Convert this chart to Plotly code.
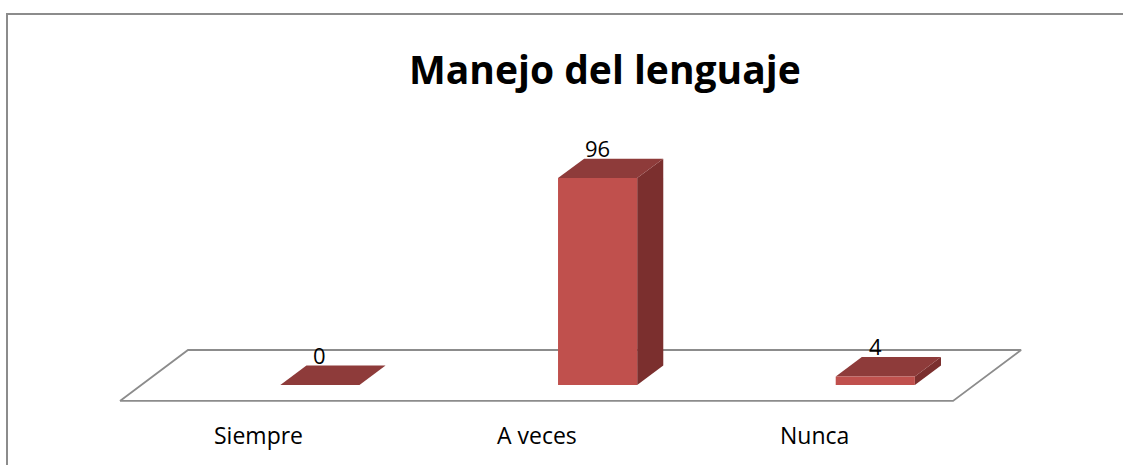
import plotly.graph_objects as go

# datos del gráfico
categorias = ["Siempre", "A veces", "Nunca"]
valores = [0, 96, 4]
titulo = "Manejo del lenguaje"

# colores estilo Office
color_frente = "#C0504D"
color_arriba = "#8E3B3A"
color_lado = "#7B2F2E"
color_piso = "#8C8C8C"

# geometría 3D simulada (unidades de los ejes)
desplaz_barra = 0.22      # barra respecto al centro de categoría
ancho_barra = 0.285
prof_dx, prof_dy = 0.094, 9.0      # profundidad de la barra
piso_dx, piso_dy = 0.245, 23.65    # profundidad del piso
piso_frente = -7.4

fig = go.Figure()

# piso
n = len(categorias)
px0, px1 = -0.5, n - 0.5
fig.add_trace(go.Scatter(
    x=[px0, px1, px1 + piso_dx, px0 + piso_dx, px0],
    y=[piso_frente, piso_frente, piso_frente + piso_dy, piso_frente + piso_dy, piso_frente],
    mode="lines", line=dict(color=color_piso, width=1.8),
    hoverinfo="skip", showlegend=False))


def cara(xs, ys, color):
    # polígono relleno para una cara de la barra
    fig.add_trace(go.Scatter(
        x=xs, y=ys, mode="lines", fill="toself", fillcolor=color,
        line=dict(width=0, color=color), hoverinfo="skip", showlegend=False))


# caras lateral, superior y frontal de cada barra
for i, v in enumerate(valores):
    l = i + desplaz_barra - ancho_barra / 2
    r = i + desplaz_barra + ancho_barra / 2
    cara([r, r + prof_dx, r + prof_dx, r, r], [0, prof_dy, v + prof_dy, v, 0], color_lado)
    cara([l, r, r + prof_dx, l + prof_dx, l], [v, v, v + prof_dy, v + prof_dy, v], color_arriba)
    if v > 0:
        cara([l, r, r, l, l], [0, 0, v, v, 0], color_frente)

# etiquetas de datos
for i, v in enumerate(valores):
    fig.add_annotation(x=i + desplaz_barra, y=v + prof_dy, text=str(v),
                       showarrow=False, yanchor="bottom", yshift=-6,
                       font=dict(family="Open Sans", size=22, color="black"))

# etiquetas de categorías
for i, c in enumerate(categorias):
    fig.add_annotation(x=i, y=-23.2, text=c, showarrow=False, yanchor="middle",
                       font=dict(family="Open Sans", size=23, color="black"))

# título
fig.add_annotation(xref="paper", yref="paper", x=605 / 1123, y=1 - 68 / 465,
                   text="<b>" + titulo + "</b>", showarrow=False, yanchor="middle",
                   font=dict(family="Open Sans", size=39, color="black"))

# borde del área del gráfico
fig.add_shape(type="rect", xref="paper", yref="paper",
              x0=7 / 1123, y0=1 - 14 / 465, x1=1.2, y1=-0.2,
              line=dict(color="#8C8C8C", width=2))

fig.update_xaxes(visible=False, range=[-0.932, 3.112], fixedrange=True)
fig.update_yaxes(visible=False, range=[-37.1, 178.6], fixedrange=True)
fig.update_layout(
    width=1123, height=465,
    margin=dict(l=0, r=0, t=0, b=0),
    paper_bgcolor="white", plot_bgcolor="white",
)

fig.write_html("out.html", config={"displayModeBar": False},
               post_script="document.body.style.margin='0';")
